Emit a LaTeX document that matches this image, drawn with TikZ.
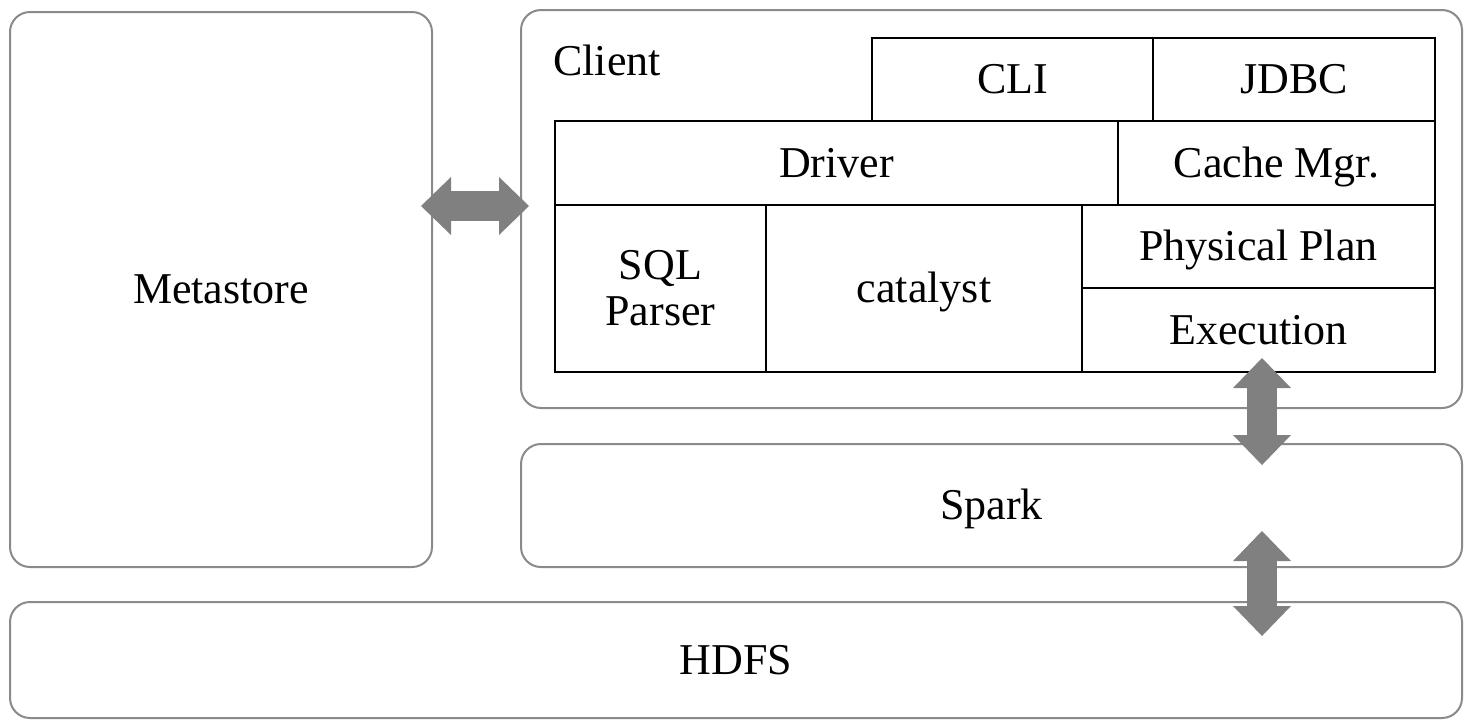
\documentclass[tikz,border=0pt]{standalone}
\usepackage{fontspec}
\setmainfont{Liberation Serif}
\usepackage{tikz}
\usetikzlibrary{positioning,calc,arrows.meta}

\definecolor{boxgray}{HTML}{8A8A8A}
\definecolor{arrowgray}{HTML}{808080}

\tikzset{
    outerbox/.style={draw=boxgray, line width=2pt, rounded corners=20pt, inner sep=0pt, text height=31pt, text depth=3pt},
    cell/.style={draw=black, line width=2pt, inner sep=0pt, align=center},
    onecell/.style={cell, text height=31pt, text depth=3pt},
    biarrow/.style={draw=arrowgray, line width=30pt,
        {Triangle[length=30pt,width=58pt,line width=0pt]}-{Triangle[length=30pt,width=58pt,line width=0pt]}}
}

\begin{document}
\begin{tikzpicture}[x=1pt, y=-1pt, font=\fontsize{44}{50}\selectfont]
    \useasboundingbox (0,0) rectangle (1464,721);

    % outer boxes
    \node[outerbox, minimum width=422pt, minimum height=555pt] (meta) at (221,289.5) {Metastore};
    \node[outerbox, minimum width=941pt, minimum height=398pt] (client) at (991.5,209) {};
    \node[outerbox, minimum width=941pt, minimum height=123pt] (spark) at (991.5,505.5) {Spark};
    \node[outerbox, minimum width=1452pt, minimum height=116pt] (hdfs) at (736,660) {HDFS};
    \node[anchor=base west, inner sep=0pt] (clientlbl) at (553,75) {Client};

    % client parts
    \node[onecell, minimum width=281pt, minimum height=83pt] (cli) at (1012.5,79.5) {CLI};
    \node[onecell, minimum width=282pt, minimum height=83pt] (jdbc) at (1294,79.5) {JDBC};
    \node[onecell, minimum width=563pt, minimum height=84pt] (drv) at (836.5,163) {Driver};
    \node[onecell, minimum width=317pt, minimum height=84pt] (cache) at (1276.5,163) {Cache Mgr.};
    \node[cell, minimum width=211pt, minimum height=167pt] (sql) at (660.5,288.5) {SQL\\[-4pt]Parser};
    \node[onecell, minimum width=316pt, minimum height=167pt] (cat) at (924,288.5) {catalyst};
    \node[onecell, minimum width=353pt, minimum height=83pt] (phys) at (1258.5,246.5) {Physical Plan};
    \node[onecell, minimum width=353pt, minimum height=84pt] (exec) at (1258.5,330) {Execution};

    % arrows
    \draw[biarrow, shorten <=-12pt, shorten >=-9pt] (meta.east |- drv.south) -- (client.west |- drv.south);
    \draw[biarrow, shorten <=-15pt, shorten >=-22pt] ([xshift=3.5pt]exec.south) -- ([xshift=3.5pt]exec.south |- spark.north);
    \draw[biarrow, shorten <=-37pt, shorten >=-35pt] ([xshift=3.5pt]exec.south |- spark.south) -- ([xshift=3.5pt]exec.south |- hdfs.north);
\end{tikzpicture}
\end{document}
